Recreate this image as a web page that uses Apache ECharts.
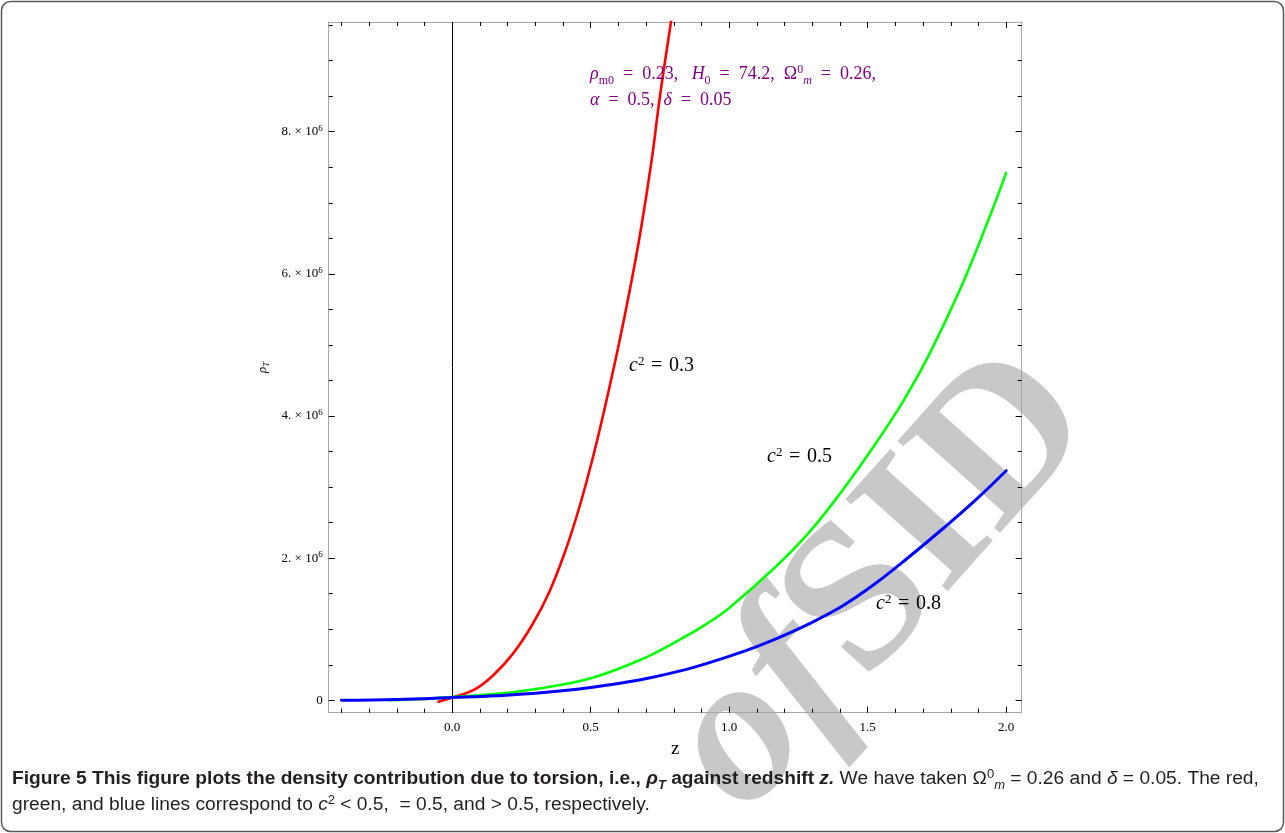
<!DOCTYPE html>
<html>
<head>
<meta charset="utf-8">
<script src="https://cdn.jsdelivr.net/npm/echarts@6/dist/echarts.min.js"></script>
<style>
html,body{margin:0;padding:0;background:#fff;}
#chart{width:1285px;height:833px;}
</style>
</head>
<body>
<div id="chart"></div>
<script>
// values (rho_T against z)
var zRed   = [-0.05, 0, 0.08, 0.15, 0.22, 0.29, 0.35, 0.41, 0.46, 0.51, 0.55, 0.60, 0.64, 0.68, 0.72, 0.75, 0.79, 0.80];
var rhoRed = [-0.02e6, 0.04e6, 0.15e6, 0.36e6, 0.66e6, 1.07e6, 1.52e6, 2.12e6, 2.73e6, 3.45e6, 4.1e6, 4.98e6, 5.75e6, 6.6e6, 7.6e6, 8.5e6, 9.55e6, 9.8e6];

var zGreen   = [-0.23, -0.1, 0, 0.16, 0.32, 0.5, 0.68, 0.82, 0.92, 1.0, 1.16, 1.29, 1.41, 1.53, 1.63, 1.72, 1.83, 1.93, 2.0];
var rhoGreen = [0, 0.02e6, 0.046e6, 0.09e6, 0.17e6, 0.31e6, 0.57e6, 0.85e6, 1.08e6, 1.3e6, 1.85e6, 2.37e6, 2.96e6, 3.62e6, 4.22e6, 4.85e6, 5.75e6, 6.70e6, 7.42e6];

var zBlue   = [-0.4, -0.2, 0, 0.16, 0.32, 0.5, 0.68, 0.82, 0.92, 1.06, 1.16, 1.29, 1.41, 1.53, 1.65, 1.77, 1.89, 2.0];
var rhoBlue = [0, 0.012e6, 0.04e6, 0.065e6, 0.105e6, 0.18e6, 0.29e6, 0.41e6, 0.52e6, 0.70e6, 0.85e6, 1.08e6, 1.33e6, 1.65e6, 2.02e6, 2.41e6, 2.82e6, 3.23e6];

var zMajor = [0, 0.5, 1, 1.5, 2];
var zMinor = [-0.4,-0.3,-0.2,-0.1,0.1,0.2,0.3,0.4,0.6,0.7,0.8,0.9,1.1,1.2,1.3,1.4,1.6,1.7,1.8,1.9];
var rhoMajor = [0, 2e6, 4e6, 6e6, 8e6];
var rhoMinor = [0.5e6,1e6,1.5e6,2.5e6,3e6,3.5e6,4.5e6,5e6,5.5e6,6.5e6,7e6,7.5e6,8.5e6,9e6,9.5e6];

var zMin = -0.446, zMax = 2.056;
var rhoMin = -0.1745e6, rhoMax = 9.543e6;

var SERIF = '"Liberation Serif", "DejaVu Serif", serif';
var SANS = '"Liberation Sans", Arial, sans-serif';
var FRAME = '#a6a6a6';
var PURPLE = '#800080';
var INK = '#231f20';

function pairs(xs, ys){
	var out = [];
	for(var i=0;i<xs.length;i++){ out.push([xs[i], ys[i]]); }
	return out;
}

function xAx(pos, vals, len, main){
	return {
		type:'value', position:pos, min:zMin, max:zMax, gridIndex:0,
		axisLine:{show:main, onZero:false, lineStyle:{color:FRAME, width:1}},
		axisTick:{show:true, inside:true, length:len, customValues:vals, lineStyle:{color:'#000', width:1}},
		axisLabel:{show:false},
		splitLine:{show:false}
	};
}
function yAx(pos, vals, len, main){
	return {
		type:'value', position:pos, min:rhoMin, max:rhoMax, gridIndex:0,
		axisLine:{show:main, onZero:false, lineStyle:{color:FRAME, width:1}},
		axisTick:{show:true, inside:true, length:len, customValues:vals, lineStyle:{color:'#000', width:1}},
		axisLabel:{show:false},
		splitLine:{show:false}
	};
}

var xAxes = [xAx('bottom', zMajor, 6, true), xAx('bottom', zMinor, 4, false), xAx('top', zMajor, 6, true), xAx('top', zMinor, 4, false)];
xAxes[0].axisLabel = {
	show:true, customValues:zMajor, margin:8, color:'#000', fontFamily:SERIF, fontSize:13,
	formatter:function(v){ return v.toFixed(1); }
};
xAxes[0].name = 'z';
xAxes[0].nameLocation = 'middle';
xAxes[0].nameGap = 27;
xAxes[0].nameTextStyle = {color:'#000', fontFamily:SERIF, fontSize:19};

var yAxes = [yAx('left', rhoMajor, 6, true), yAx('left', rhoMinor, 4, false), yAx('right', rhoMajor, 6, true), yAx('right', rhoMinor, 4, false)];
yAxes[0].axisLabel = {
	show:true, customValues:rhoMajor, margin:6, color:'#000', fontFamily:SERIF, fontSize:13,
	formatter:function(v){
		if(v===0){ return '{n|0}'; }
		return '{n|' + Math.round(v/1e6) + '. \u00d7 10}{sup|6}';
	},
	rich:{
		n:{fontFamily:SERIF, fontSize:13, color:'#000', lineHeight:18},
		sup:{fontFamily:SERIF, fontSize:9, color:'#000', lineHeight:9, verticalAlign:'top', padding:[1,0,0,0]}
	}
};
yAxes[0].name = '{i|\u03c1}{sub|T}';
yAxes[0].nameLocation = 'middle';
yAxes[0].nameRotate = 90;
yAxes[0].nameGap = 53;
yAxes[0].nameTextStyle = {
	rich:{
		i:{fontFamily:SERIF, fontStyle:'italic', fontSize:13, color:'#000', lineHeight:16},
		sub:{fontFamily:SERIF, fontStyle:'italic', fontSize:9, color:'#000', lineHeight:9, verticalAlign:'bottom'}
	}
};

function lineSeries(name, xs, ys, color, w){
	return {
		name:name, type:'line', xAxisIndex:0, yAxisIndex:0,
		data:pairs(xs, ys), showSymbol:false, symbol:'none',
		smooth:0.4, clip:true,
		lineStyle:{color:color, width:w, cap:'round'},
		itemStyle:{color:color}, z:3
	};
}

var series = [
	lineSeries('c2=0.3', zRed, rhoRed, '#ff0000', 2.6),
	lineSeries('c2=0.5', zGreen, rhoGreen, '#00ff00', 2.6),
	lineSeries('c2=0.8', zBlue, rhoBlue, '#0000ff', 3)
];
// vertical axis line at z = 0
series[0].markLine = {
	silent:true, symbol:['none','none'], label:{show:false},
	lineStyle:{color:'#000', width:1, type:'solid'},
	data:[{xAxis:0}], z:2
};

var EQ = '\u2002=\u2002';
var mRich = {
	t:{fontFamily:SERIF, fontSize:18, fill:PURPLE, lineHeight:26},
	i:{fontFamily:SERIF, fontSize:18, fontStyle:'italic', fill:PURPLE, lineHeight:26},
	sub:{fontFamily:SERIF, fontSize:12, fill:PURPLE, lineHeight:12, verticalAlign:'bottom'},
	subi:{fontFamily:SERIF, fontSize:12, fontStyle:'italic', fill:PURPLE, lineHeight:12, verticalAlign:'bottom'},
	sup:{fontFamily:SERIF, fontSize:12, fill:PURPLE, lineHeight:12, verticalAlign:'top', padding:[3,0,0,0]}
};
var CEQ = '\u2004=\u2004';
var cRich = {
	i:{fontFamily:SERIF, fontSize:20, fontStyle:'italic', fill:'#000', lineHeight:28},
	t:{fontFamily:SERIF, fontSize:20, fill:'#000', lineHeight:28},
	sup:{fontFamily:SERIF, fontSize:13, fill:'#000', lineHeight:13, verticalAlign:'top', padding:[3,0,0,0]}
};
var CS = 19.2;
var capRich = {
	b:{fontFamily:SANS, fontSize:CS, fontWeight:'bold', fill:INK, lineHeight:26},
	bi:{fontFamily:SANS, fontSize:CS, fontWeight:'bold', fontStyle:'italic', fill:INK, lineHeight:26},
	bsub:{fontFamily:SANS, fontSize:13, fontWeight:'bold', fontStyle:'italic', fill:INK, lineHeight:13, verticalAlign:'bottom'},
	r:{fontFamily:SANS, fontSize:CS, fill:INK, lineHeight:26},
	ri:{fontFamily:SANS, fontSize:CS, fontStyle:'italic', fill:INK, lineHeight:26},
	sup:{fontFamily:SANS, fontSize:13, fill:INK, lineHeight:13, verticalAlign:'top', padding:[2,0,0,0]},
	subi:{fontFamily:SANS, fontSize:13, fontStyle:'italic', fill:INK, lineHeight:13, verticalAlign:'bottom'}
};

function label(x, y, text, rich, z){
	return {type:'text', x:x, y:y, z:z||20, silent:true,
		style:{text:text, rich:rich, align:'left', verticalAlign:'middle'}};
}

var graphics = [
	{type:'rect', z:1, silent:true, shape:{x:1.5, y:1.5, width:1282, height:830, r:9},
		style:{fill:null, stroke:'#5a5a5a', lineWidth:1.5}},
	{type:'text', x:882, y:583, rotation:0.84, z:-1, silent:true,
		style:{text:'{f|of} {s|SID}', align:'center', verticalAlign:'middle',
			rich:{
				f:{fontFamily:SERIF, fontSize:210, fontWeight:'bold', fontStyle:'italic', fill:'#c8c8c8'},
				s:{fontFamily:SERIF, fontSize:210, fontWeight:'bold', fill:'#c8c8c8'}
			}}},
	label(590, 74, '{i|\u03c1}{sub|m0}{t|' + EQ + '0.23,   }{i|H}{sub|0}{t|' + EQ + '74.2,  \u03a9}{sup|0}{subi|m}{t|' + EQ + '0.26,}', mRich),
	label(590, 100, '{i|\u03b1}{t|' + EQ + '0.5,  }{i|\u03b4}{t|' + EQ + '0.05}', mRich),
	label(629, 366, '{i|c}{sup|2}{t|' + CEQ + '0.3}', cRich),
	label(767, 457, '{i|c}{sup|2}{t|' + CEQ + '0.5}', cRich),
	label(876, 604, '{i|c}{sup|2}{t|' + CEQ + '0.8}', cRich),
	label(12, 779, '{b|Figure 5 This figure plots the density contribution due to torsion, i.e., }{bi|\u03c1}{bsub|T}{b| against redshift }{bi|z.}{r| We have taken \u03a9}{sup|0}{subi|m}{r| = 0.26 and }{ri|\u03b4}{r| = 0.05. The red,}', capRich, 30),
	label(12, 805, '{r|green, and blue lines correspond to }{ri|c}{sup|2}{r| < 0.5,  = 0.5, and > 0.5, respectively.}', capRich, 30)
];

var chart = echarts.init(document.getElementById('chart'), null, {renderer:'canvas'});
chart.setOption({
	backgroundColor:'#fff',
	animation:false,
	grid:{left:328.7, right:263.3, top:22, bottom:120.3, containLabel:false},
	xAxis:xAxes,
	yAxis:yAxes,
	series:series,
	graphic:graphics
});
</script>
</body>
</html>
